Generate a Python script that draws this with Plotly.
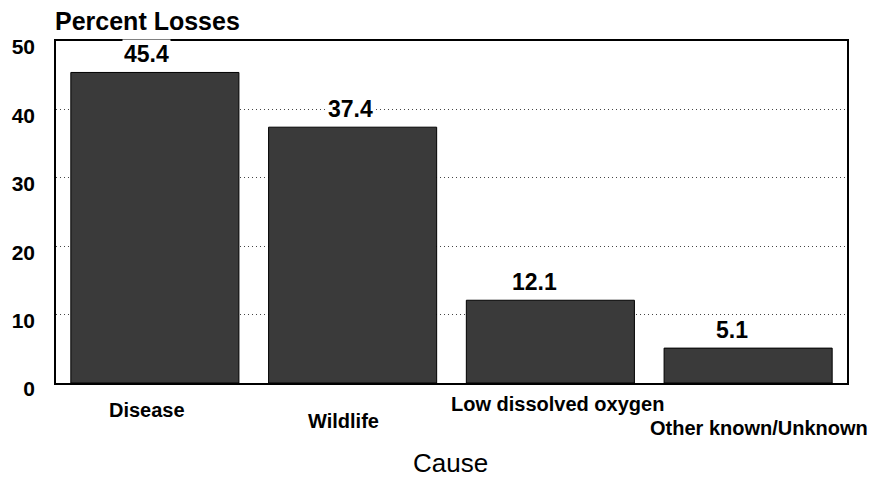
import plotly.graph_objects as go

categories = ["Disease", "Wildlife", "Low dissolved oxygen", "Other known/Unknown"]
values = [45.4, 37.4, 12.1, 5.1]
value_labels = ["45.4", "37.4", "12.1", "5.1"]
y_ticks = [0, 10, 20, 30, 40, 50]

# style offsets (pixels) for label placement
label_xshift = [-8, -2, -16, -16]
cat_xshift = [-8, -9, 7, 11]
cat_ypos = [410, 421, 404, 428]

FONT = "Liberation Sans, Arial, sans-serif"

fig = go.Figure()
fig.add_trace(go.Bar(
    x=categories, y=values,
    marker=dict(color="#3a3a3a", line=dict(color="#000000", width=1)),
    hoverinfo="x+y",
))

W, H = 873, 477
ml, mr, mt, mb = 56, 26, 41, 94

annotations = []
for c, v, t, xs in zip(categories, values, value_labels, label_xshift):
    annotations.append(dict(
        x=c, y=v, xref="x", yref="y", text=t, showarrow=False,
        xshift=xs, yshift=18, yanchor="middle", bgcolor="white",
        font=dict(family=FONT, size=23, color="black", weight="bold"),
    ))
for c, xs, yp in zip(categories, cat_xshift, cat_ypos):
    annotations.append(dict(
        x=c, y=1 - (yp - mt) / (H - mt - mb), xref="x", yref="paper",
        text=c, showarrow=False, xshift=xs, yanchor="middle",
        font=dict(family=FONT, size=20, color="black", weight="bold"),
    ))
annotations.append(dict(
    x=(450 - ml) / (W - ml - mr), y=1 - (463 - mt) / (H - mt - mb),
    xref="paper", yref="paper", text="Cause", showarrow=False,
    yanchor="middle", xanchor="center",
    font=dict(family=FONT, size=26, color="black"),
))
annotations.append(dict(
    x=0, y=1 - (21 - mt) / (H - mt - mb), xshift=-3,
    xref="paper", yref="paper", text="Percent Losses", showarrow=False,
    yanchor="middle", xanchor="left",
    font=dict(family=FONT, size=25, color="black", weight="bold"),
))

fig.update_layout(
    width=W, height=H,
    margin=dict(l=ml, r=mr, t=mt, b=mb, pad=0),
    paper_bgcolor="white", plot_bgcolor="white",
    bargap=0.15, showlegend=False,
    annotations=annotations,
    xaxis=dict(showticklabels=False, showline=True, linecolor="black",
               linewidth=1.5, mirror=True, ticks="", showgrid=False,
               zeroline=False, range=[-0.5, len(categories) - 0.5]),
    yaxis=dict(range=[0, 50], tickvals=y_ticks, showline=True,
               linecolor="black", linewidth=1.5, mirror=True, ticks="",
               showgrid=True, gridcolor="#444444", griddash="1px,3px",
               gridwidth=1, zeroline=False,
               tickfont=dict(family=FONT, size=21, color="black", weight="bold"),
               ticklabelstandoff=15, ticklabelshift=6),
)

fig.write_html("out.html", config={"displayModeBar": False},
               post_script="document.body.style.margin='0';document.body.style.overflow='hidden';")
